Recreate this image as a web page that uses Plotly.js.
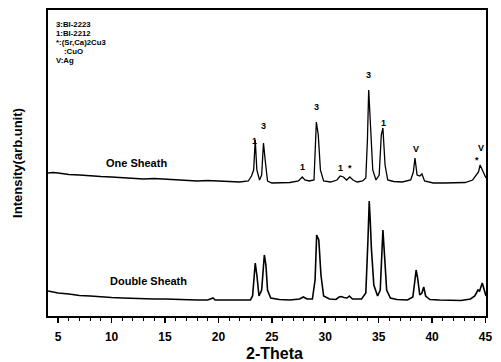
<!DOCTYPE html>
<html>
<head>
<meta charset="utf-8">
<script src="https://cdn.plot.ly/plotly-3.0.1.min.js"></script>
<style>html,body{margin:0;padding:0;background:#fff;}#chart{width:501px;height:362px;}</style>
</head>
<body>
<div id="chart"></div>
<script>
// Double Sheath pattern (2-Theta, intensity arb. units)
const doubleX = [4.06,4.5,5,6,7,8,9,10,11,12,
  13,14,15,16,17,18,19,19.5,19.7,20.5,
  21.5,22.5,23.0,23.2,23.35,23.45,23.6,23.8,24.05,24.3,
  24.45,24.6,24.9,25.7,26.7,27.6,27.95,28.3,28.8,29.05,
  29.2,29.4,29.6,29.85,30.4,31.0,31.3,31.5,31.75,32.05,
  32.26,32.55,33.4,33.8,34.0,34.12,34.22,34.32,34.55,34.9,
  35.15,35.3,35.4,35.55,35.75,36.1,36.7,37.7,38.2,38.4,
  38.51,38.65,38.85,39.05,39.22,39.4,39.8,40.7,41.7,42.7,
  43.6,44.0,44.3,44.45,44.7,44.9,45.05];
const doubleY = [25,24,23,22,20.5,20,19,18.5,18,17.5,
  17,17,17,16.5,16.5,16,16,18,16,16,
  15.5,15.5,16,20,41,53,41,20,26,61,
  51,26,18,16.5,16,17,19,17,17,36,
  81,76,41,20,17,16.5,19,19.5,18.5,18,
  20,17,17,23,76,115,94,68,31,20,
  26,71,86,61,26,18,16.5,16,19,36,
  46,38,21,23,29,20,16.5,16,16,15.5,
  17,20,26,25,33,26,20];

// One Sheath pattern
const oneX = [4.06,4.5,5,5.5,6,7,8,9,10,11,
  12,13,14,15,16,17,18,19,20,21,
  22,22.8,23.1,23.3,23.45,23.6,23.85,24.05,24.22,24.38,
  24.6,25.0,25.7,26.7,27.5,27.85,28.1,28.5,28.95,29.05,
  29.17,29.35,29.55,29.85,30.5,31.1,31.4,31.7,32.0,32.3,
  32.6,33.0,33.5,33.8,33.95,34.07,34.22,34.45,34.75,35.05,
  35.25,35.4,35.6,35.85,36.4,37.2,38.0,38.25,38.4,38.6,
  38.85,39.05,39.3,40.1,41.1,42.1,43.1,43.8,44.2,44.35,
  44.5,44.7,45.05];
const oneY = [143,143.5,143,142,141.5,141,140,139.5,139,138.5,
  137.5,137,137.5,137,136.5,136,135,135.5,135,134,
  134,135,140,146,176,146,136,141,173,156,
  135,133,133,133.5,135,139,136,135,136,156,
  194,181,146,135,134,136,140,139,136,139,
  136,134,135,138,176,226,196,146,136,141,
  181,188,151,136,134.5,134,136,144,158,141,
  140,142,135,133,133,133,133.5,136,141,144,
  151,146,138];

// Peak labels
const peakLabelText = ["1","3","1","3","1","*","3","1","V","*","V"];
const peakLabelX = [23.36,24.2,27.86,29.17,31.45,32.35,34.04,35.45,38.54,44.25,44.62];
const peakLabelY = [175,190,149,209,148,148,241,193,167,156,168];

// Phase key
const keyText = ["3:BI-2223","1:BI-2212","*:(Sr,Ca)2Cu3",":CuO","V:Ag"];

const sampleNames = ["One Sheath","Double Sheath"];
const xTickVals = [5,10,15,20,25,30,35,40,45];

const font = "Liberation Sans, Arial, sans-serif";

const traces = [
  {x: oneX, y: oneY, type: "scatter", mode: "lines", line: {color: "#000", width: 1.3}, hoverinfo: "skip", showlegend: false},
  {x: doubleX, y: doubleY, type: "scatter", mode: "lines", line: {color: "#000", width: 1.6}, hoverinfo: "skip", showlegend: false}
];

const annotations = [];
peakLabelText.forEach((t, i) => {
  annotations.push({x: peakLabelX[i], y: peakLabelY[i], xref: "x", yref: "y", text: "<b>" + t + "</b>",
    showarrow: false, font: {family: font, size: 9, color: "#000"}});
});
const keyY = [0.953, 0.923, 0.893, 0.863, 0.834];
const keyXs = [0.016, 0.016, 0.016, 0.034, 0.016];
keyText.forEach((t, i) => {
  annotations.push({x: keyXs[i], y: keyY[i], xref: "paper", yref: "paper", xanchor: "left", yanchor: "middle",
    text: "<b>" + t + "</b>", showarrow: false, borderpad: 0, font: {family: font, size: 7.8, color: "#000"}});
});
annotations.push({x: 12.3, y: 153, xref: "x", yref: "y", text: "<b>" + sampleNames[0] + "</b>", showarrow: false,
  font: {family: font, size: 11, color: "#000"}});
annotations.push({x: 13.43, y: 35, xref: "x", yref: "y", text: "<b>" + sampleNames[1] + "</b>", showarrow: false,
  font: {family: font, size: 11, color: "#000"}});
annotations.push({x: -0.071, y: 0.5, xref: "paper", yref: "paper", xanchor: "center", yanchor: "middle",
  text: "<b>Intensity(arb.unit)</b>", textangle: -90,
  showarrow: false, font: {family: font, size: 13, color: "#000"}});
annotations.push({x: 0.518, y: -0.121, xref: "paper", yref: "paper", xanchor: "center", yanchor: "middle", text: "<b>2-Theta</b>",
  showarrow: false, font: {family: font, size: 16, color: "#000"}});

const layout = {
  width: 501, height: 362,
  margin: {l: 48, r: 15, t: 10, b: 46},
  paper_bgcolor: "#fff", plot_bgcolor: "#fff",
  showlegend: false,
  xaxis: {
    range: [4.05, 45.05], tickvals: xTickVals, ticktext: xTickVals.map(v => "<b>" + v + "</b>"),
    ticks: "outside", ticklen: 5, tickwidth: 1.5, tickcolor: "#000", ticklabelstandoff: 4,
    minor: {dtick: 1, ticks: "outside", ticklen: 3, tickwidth: 1, tickcolor: "#000"},
    showgrid: false, zeroline: false, showline: true, linecolor: "#000", linewidth: 2, mirror: true,
    tickfont: {family: font, size: 12, color: "#000"}
  },
  yaxis: {
    range: [0, 306], showticklabels: false, ticks: "", showgrid: false, zeroline: false,
    showline: true, linecolor: "#000", linewidth: 2, mirror: true
  },
  annotations: annotations
};

Plotly.newPlot("chart", traces, layout, {staticPlot: true, displayModeBar: false});
</script>
</body>
</html>
